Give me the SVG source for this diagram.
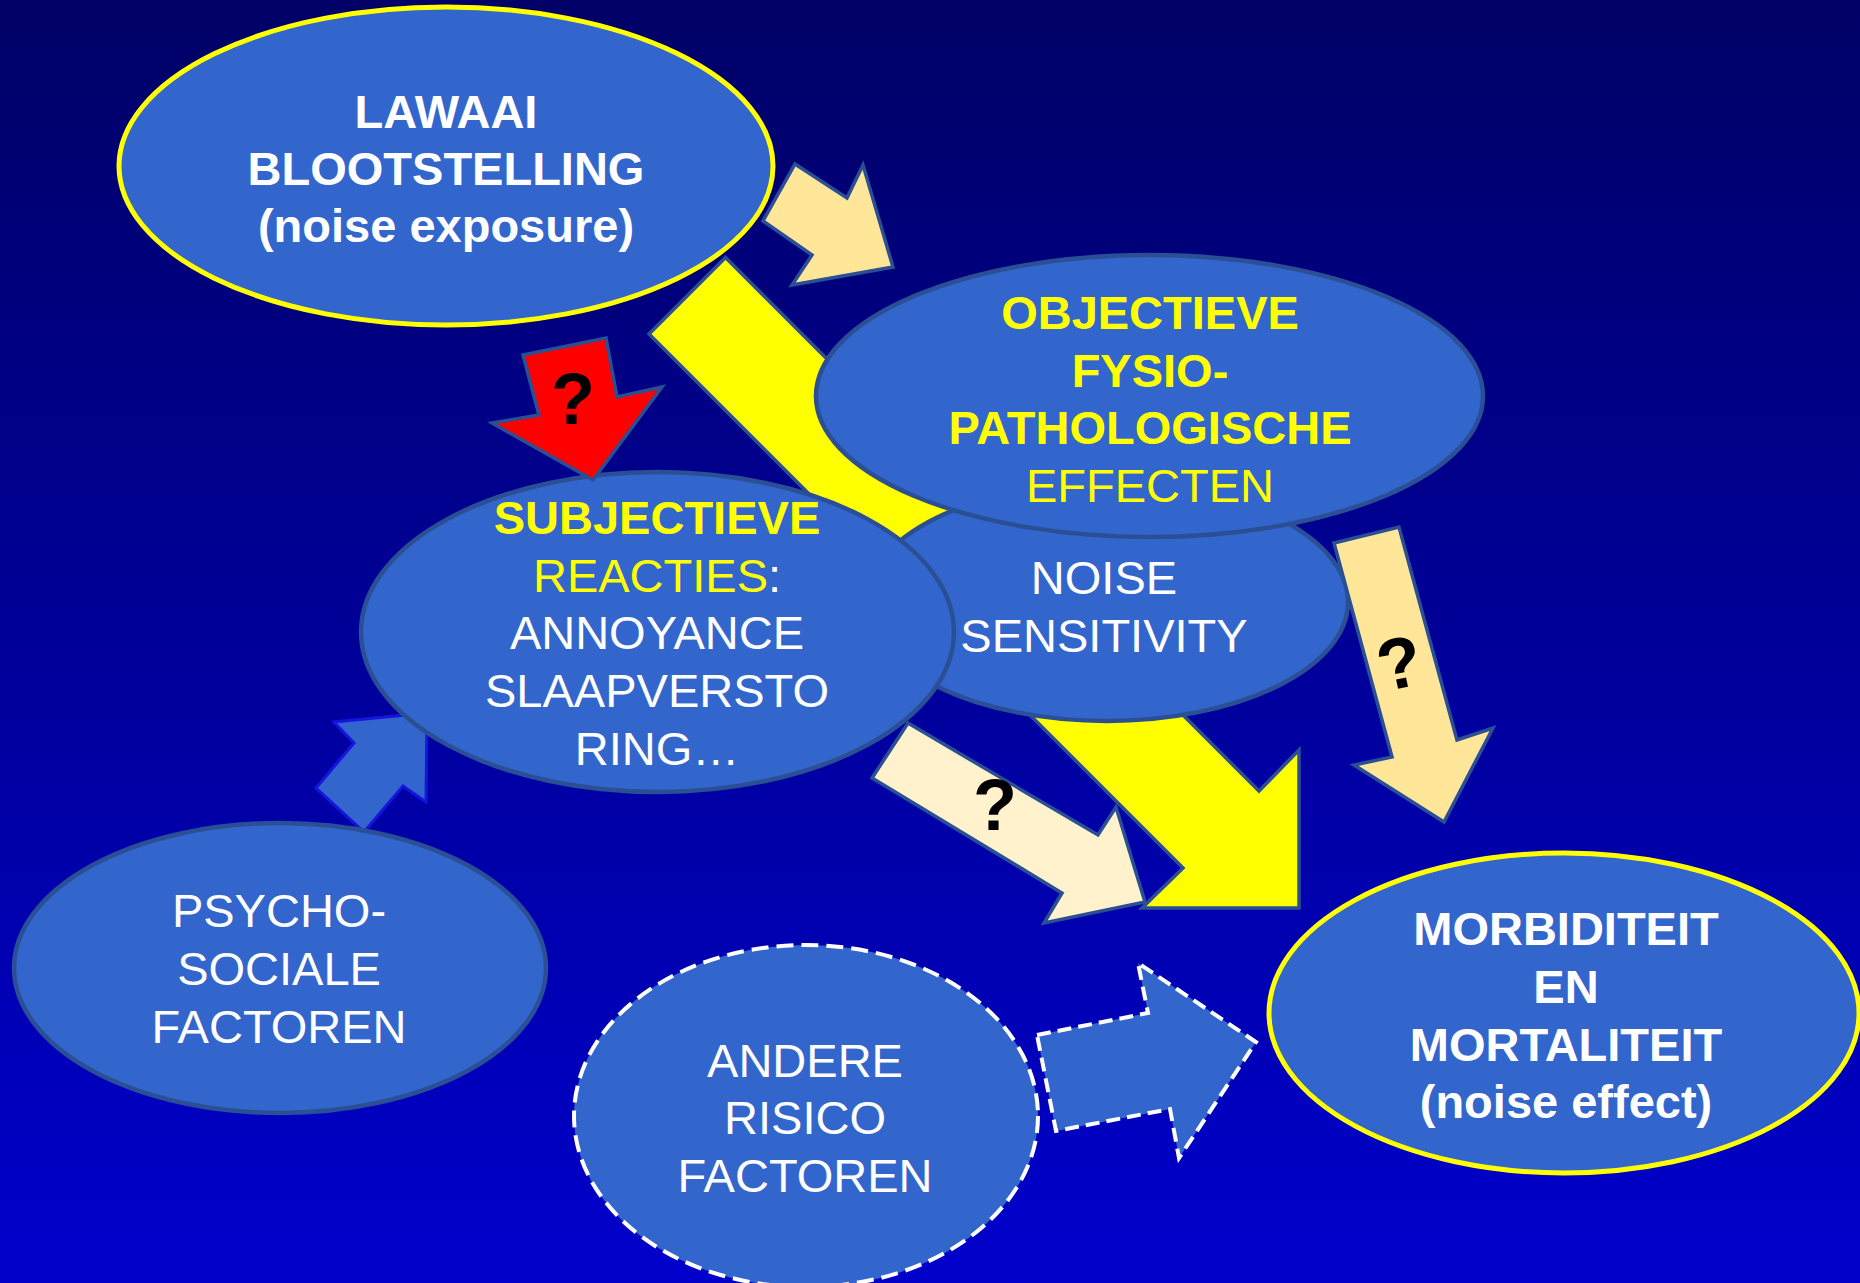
<svg xmlns="http://www.w3.org/2000/svg" width="1860" height="1283" viewBox="0 0 1860 1283">
<defs>
<linearGradient id="bg" x1="0" y1="0" x2="0" y2="1">
<stop offset="0" stop-color="#000066"/>
<stop offset="1" stop-color="#0000CC"/>
</linearGradient>
<style>
.node{fill:#3366CC;stroke:#2B4F95;stroke-width:4.5}
.hl{stroke:#FFFF00;stroke-width:5}
.dash{stroke:#FFFFFF;stroke-width:4;stroke-dasharray:17 8}
.arr{stroke:#2B4F95;stroke-width:3.5;stroke-linejoin:miter}
text{font-family:"Liberation Sans",Arial,sans-serif;font-size:47px;text-anchor:middle;fill:#FFFFFF}
.b{font-weight:bold}
.y{fill:#FFFF00}
.q{font-size:72px;font-weight:bold;fill:#000000}
</style>
</defs>
<rect width="1860" height="1283" fill="url(#bg)"/>

<g id="connectors">
<polygon id="arrow-main" class="arr" fill="#FFFF00" points="725.5,257.5 649,334 1183,868 1142,908 1299,908 1299,750 1259,791"/>
<polygon id="arrow-psycho" fill="#3366CC" stroke="#1515E0" stroke-width="3" points="316,788 354,743 334,722 427,713 426,802 403,786 364,832"/>
</g>

<g id="node-noise">
<ellipse class="node" cx="1107" cy="602" rx="241" ry="119"/>
<text x="1104" y="594">NOISE</text>
<text x="1104" y="652">SENSITIVITY</text>
</g>

<g id="node-objectieve">
<ellipse class="node" cx="1149.5" cy="396" rx="333.5" ry="141"/>
<text class="b y" x="1150" y="329">OBJECTIEVE</text>
<text class="b y" x="1150" y="386.5">FYSIO-</text>
<text class="b y" x="1150" y="444">PATHOLOGISCHE</text>
<text class="y" x="1150" y="501.5">EFFECTEN</text>
</g>

<g id="node-subjectieve">
<ellipse class="node" cx="657.5" cy="632" rx="296.5" ry="160"/>
<text class="b y" x="657" y="534">SUBJECTIEVE</text>
<text x="657" y="592"><tspan class="y">REACTIES</tspan>:</text>
<text x="657" y="649">ANNOYANCE</text>
<text x="657" y="707">SLAAPVERSTO</text>
<text x="657" y="765">RING…</text>
</g>

<g id="node-lawaai">
<ellipse class="node hl" cx="446" cy="166" rx="327" ry="159"/>
<text class="b" x="446" y="128">LAWAAI</text>
<text class="b" x="446" y="185">BLOOTSTELLING</text>
<text class="b" x="446" y="242">(noise exposure)</text>
</g>

<g id="node-psycho">
<ellipse class="node" cx="280" cy="968" rx="266" ry="145"/>
<text x="279" y="927">PSYCHO-</text>
<text x="279" y="985">SOCIALE</text>
<text x="279" y="1043">FACTOREN</text>
</g>

<g id="node-andere">
<ellipse class="node dash" cx="806" cy="1116" rx="232" ry="171"/>
<text x="805" y="1077">ANDERE</text>
<text x="805" y="1134">RISICO</text>
<text x="805" y="1192">FACTOREN</text>
</g>

<g id="node-morbiditeit">
<ellipse class="node hl" cx="1564" cy="1013" rx="295" ry="160"/>
<text class="b" x="1566" y="945">MORBIDITEIT</text>
<text class="b" x="1566" y="1003">EN</text>
<text class="b" x="1566" y="1061">MORTALITEIT</text>
<text class="b" x="1566" y="1118">(noise effect)</text>
</g>

<g id="connectors-2">
<polygon id="arrow-top" class="arr" fill="#FFE699" points="795,164 847,198 863,165 893,267 792,285 812,255 763,221"/>
<polygon id="arrow-red" class="arr" fill="#FF0000" points="523,355 606,338 617,397 662,387 593,480 492,423 539,415"/>
<text class="q" x="573" y="424">?</text>
<polygon id="arrow-right" class="arr" fill="#FFE699" points="1334,543 1399,527 1457,740 1493,728 1444,822 1354,765 1392,757"/>
<text class="q" x="1399" y="688" transform="rotate(-12 1399 662)">?</text>
<polygon id="arrow-cream" class="arr" fill="#FFF2CC" points="908,723 1098,835 1116,807 1145,902 1044,923 1062,893 872,778"/>
<text class="q" x="995" y="830">?</text>
<polygon id="arrow-dashed" fill="#3366CC" stroke="#FFFFFF" stroke-width="4" stroke-dasharray="14 7" points="1037,1035 1148,1013 1138,963 1256,1042 1179,1158 1170,1109 1056,1131"/>
</g>
</svg>
